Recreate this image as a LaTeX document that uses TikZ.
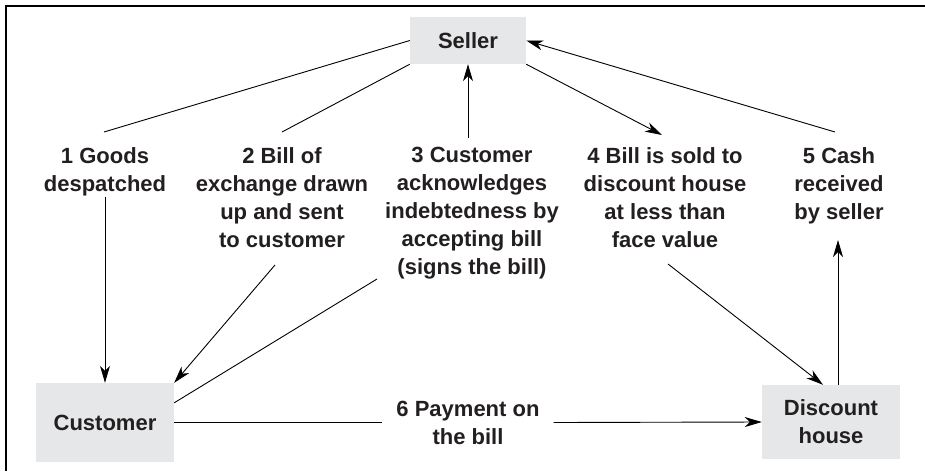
\documentclass[tikz,border=0pt]{standalone}
\usepackage{fontspec}
\setmainfont{Liberation Sans}
\usetikzlibrary{arrows.meta}
\definecolor{boxgray}{HTML}{E6E7E8}
\definecolor{ink}{HTML}{231F20}
\begin{document}
\begin{tikzpicture}[x=1pt,y=-1pt,
  txt/.style={font=\bfseries\fontsize{22}{28}\selectfont, text=ink, align=center},
  box/.style={txt, fill=boxgray, inner sep=0pt},
  lbl/.style={txt, inner sep=0pt, anchor=north},
  conn/.style={line width=0.9pt},
  arr/.style={conn, -{Stealth[length=17pt,width=10pt,inset=5pt]}}]
\useasboundingbox (0,0) rectangle (925,471);
\draw[line width=2pt] (925,6) -- (6,6) -- (6,471);
% boxes
\node[box, minimum width=116pt, minimum height=47pt] (seller) at (468,40.5) {Seller};
\node[box, minimum width=138pt, minimum height=79pt] (customer) at (105,422.5) {Customer};
\node[box, minimum width=138pt, minimum height=74pt] (discount) at (831,422) {Discount\\house};
% labels
\node[lbl] (l1) at (105,147) {1 Goods\\despatched};
\node[lbl] (l2) at (282,147) {2 Bill of\\exchange drawn\\up and sent\\to customer};
\node[lbl] (l3) at (472,147) {3 Customer\\acknowledges\\indebtedness by\\accepting bill\\(signs the bill)};
\node[lbl] (l4) at (665,147) {4 Bill is sold to\\discount house\\at less than\\face value};
\node[lbl] (l5) at (839,147) {5 Cash\\received\\by seller};
\node[txt, inner xsep=14pt, inner ysep=0pt] (l6) at (468,422.5) {6 Payment on\\the bill};
% connector ends near labels
\coordinate (c1a) at (104,132);
\coordinate (c1b) at (105,197);
\coordinate (c2a) at (282,132);
\coordinate (c2b) at (275,265);
\coordinate (c3a) at (377,279);
\coordinate (c3b) at (468,138);
\coordinate (c4a) at (662,135);
\coordinate (c4b) at (668,264);
\coordinate (c5a) at (835,132);
\coordinate (c5b) at (838,240);
% connectors
\draw[conn] (seller.west) -- (c1a);
\draw[arr] (c1b) -- (customer.north);
\draw[conn] (seller.south west) -- (c2a);
\draw[arr] (c2b) -- (customer.north east);
\draw[conn] ([yshift=-20pt]customer.north east) -- (c3a);
\draw[arr] (c3b) -- (seller.south);
\draw[arr] (seller.south east) -- (c4a);
\draw[arr] (c4b) -- ([xshift=-8pt]discount.north);
\draw[arr] (c5a) -- (seller.east);
\draw[arr] ([xshift=7pt]discount.north) -- (c5b);
\draw[conn] (customer.east) -- (l6.west);
\draw[arr] (l6.east) -- (discount.west);
\end{tikzpicture}
\end{document}
